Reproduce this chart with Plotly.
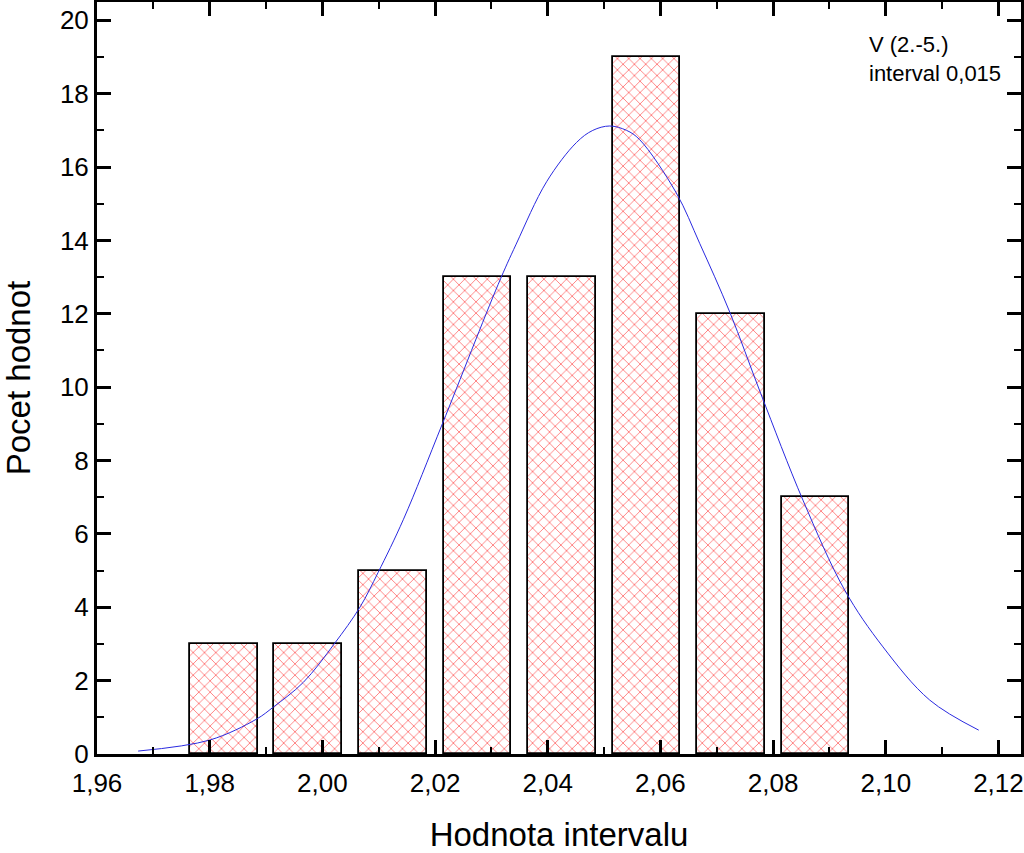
import plotly.graph_objects as go

# histogram classes (interval 0,015)
bin_centers = [1.9825, 1.9975, 2.0125, 2.0275, 2.0425, 2.0575, 2.0725, 2.0875]
counts = [3, 3, 5, 13, 13, 19, 12, 7]

# fitted curve, points
curve_x = [1.9673, 1.9800, 1.9883, 1.9913, 1.9966, 2.0021, 2.0067, 2.0099, 2.0144,
           2.0213, 2.0312, 2.0344, 2.0398, 2.0451, 2.0480, 2.0510, 2.0540, 2.0563,
           2.0628, 2.0670, 2.0723, 2.0778, 2.0853, 2.0927, 2.0995, 2.1078, 2.1165]
curve_y = [0.08, 0.38, 0.95, 1.28, 1.95, 3.0, 4.01, 4.95, 6.4,
           9.0, 12.8, 13.9, 15.6, 16.67, 17.0, 17.12, 17.0, 16.75,
           15.3, 13.91, 12.05, 9.83, 6.92, 4.47, 2.92, 1.47, 0.65]

x_ticks = [1.96, 1.98, 2.00, 2.02, 2.04, 2.06, 2.08, 2.10, 2.12]
y_ticks = [0, 2, 4, 6, 8, 10, 12, 14, 16, 18, 20]

font = "Liberation Sans, Arial, sans-serif"

fig = go.Figure()

fig.add_trace(go.Bar(
    x=bin_centers,
    y=counts,
    width=0.012,
    marker=dict(
        color="white",
        line=dict(color="black", width=1.8),
        pattern=dict(shape="x", fgcolor="#ff0000", bgcolor="white",
                     size=8, solidity=0.22, fillmode="overlay"),
    ),
    showlegend=False,
))

fig.add_trace(go.Scatter(
    x=curve_x,
    y=curve_y,
    mode="lines",
    line=dict(color="#2a2ae0", width=1, shape="spline"),
    showlegend=False,
))

fig.add_annotation(
    x=0.833, y=0.963, xref="paper", yref="paper",
    xanchor="left", yanchor="top", align="left",
    text="V (2.-5.)<br>interval 0,015",
    showarrow=False,
    font=dict(family=font, size=22, color="black"),
)

axis_common = dict(
    showline=True, linecolor="black", linewidth=3,
    mirror="allticks", ticks="inside", tickwidth=2.5, tickcolor="black",
    showgrid=False, zeroline=False, automargin=False,
    tickfont=dict(family=font, size=26, color="black"),
)

fig.update_layout(
    width=1024, height=853,
    margin=dict(l=97, r=3, t=2, b=99),
    paper_bgcolor="white", plot_bgcolor="white",
    separators=",.",
    bargap=0,
    xaxis=dict(
        range=[1.96, 2.124],
        tickvals=x_ticks, tickformat=".2f", ticklen=14, ticklabelstandoff=4,
        minor=dict(dtick=0.01, tick0=1.96, ticklen=7, tickwidth=2, ticks="inside", tickcolor="black"),
        title=dict(text="Hodnota intervalu", font=dict(family=font, size=33, color="black"), standoff=52),
        **axis_common,
    ),
    yaxis=dict(
        range=[0, 20.5],
        tickvals=y_ticks, ticklen=14,
        minor=dict(dtick=1, tick0=0, ticklen=7, tickwidth=2, ticks="inside", tickcolor="black"),
        title=dict(text="Pocet hodnot", font=dict(family=font, size=33, color="black"), standoff=29),
        **axis_common,
    ),
)

# page body has a default 8px margin; drop it so the figure fills the window
fig.write_html("out.html", config={"displayModeBar": False},
               post_script="document.body.style.margin='0';")
